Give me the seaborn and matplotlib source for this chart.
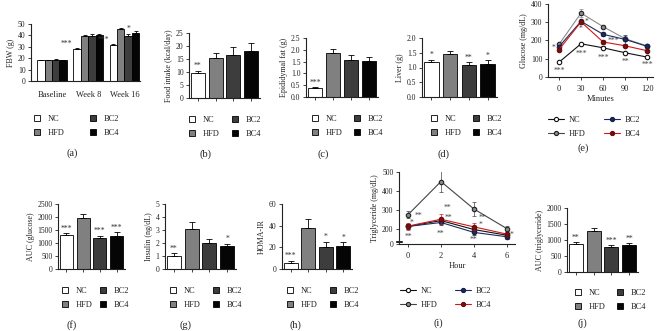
import numpy as np
import pandas as pd
import matplotlib
matplotlib.use('Agg')
import matplotlib.pyplot as plt
import seaborn as sns
from matplotlib.patches import Patch
from matplotlib.lines import Line2D

groups = ['NC', 'HFD', 'BC2', 'BC4']
bar_colors = ['#ffffff', '#808080', '#3d3d3d', '#050505']

# (a) final body weight
weeks = ['Baseline', 'Week 8', 'Week 16']
fbw_nc = [18.2, 28.5, 31.8]
fbw_hfd = [18.1, 39.5, 45.6]
fbw_bc2 = [18.4, 39.8, 39.5]
fbw_bc4 = [18.1, 40.3, 42.1]
fbw_err_nc = [0.4, 0.5, 0.5]
fbw_err_hfd = [0.4, 0.9, 0.7]
fbw_err_bc2 = [0.5, 1.0, 2.0]
fbw_err_bc4 = [0.4, 1.1, 1.8]

# single bar panels
food = [9.7, 15.3, 16.6, 18.2]
food_err = [0.8, 2.2, 3.1, 3.0]
fat = [0.37, 1.88, 1.57, 1.54]
fat_err = [0.04, 0.17, 0.21, 0.16]
liver = [1.18, 1.46, 1.07, 1.13]
liver_err = [0.09, 0.09, 0.11, 0.11]
auc_glu = [1320, 1970, 1200, 1280]
auc_glu_err = [60, 150, 75, 140]
insulin = [1.0, 3.05, 1.97, 1.75]
insulin_err = [0.22, 0.6, 0.36, 0.21]
homa = [6.0, 38.0, 20.6, 20.8]
homa_err = [1.6, 8.0, 4.5, 4.0]
auc_tg = [865, 1270, 780, 830]
auc_tg_err = [70, 100, 50, 75]

# (e) glucose tolerance
minutes = [0, 30, 60, 90, 120]
glu_nc = [81, 182, 160, 133, 109]
glu_hfd = [179, 350, 276, 210, 170]
glu_bc2 = [166, 305, 234, 206, 168]
glu_bc4 = [150, 302, 192, 171, 144]
glu_err_hfd = [8, 20, 10, 12, 8]
glu_err_bc2 = [8, 10, 10, 25, 8]
glu_err_bc4 = [8, 10, 10, 8, 8]
glu_err_nc = [5, 6, 8, 6, 5]

# (i) triglyceride tolerance
hours = [0, 2, 4, 6]
tg_nc = [214, 245, 198, 168]
tg_hfd = [276, 450, 306, 203]
tg_bc2 = [214, 235, 183, 160]
tg_bc4 = [216, 252, 212, 174]
tg_err_nc = [15, 15, 15, 10]
tg_err_hfd = [20, 55, 35, 15]
tg_err_bc2 = [15, 15, 15, 10]
tg_err_bc4 = [18, 25, 18, 12]

sns.set_style('ticks')
plt.rcParams['font.family'] = ['Liberation Serif', 'DejaVu Serif']
plt.rcParams['text.color'] = '#222222'
plt.rcParams['axes.labelcolor'] = '#222222'
plt.rcParams['xtick.color'] = '#222222'
plt.rcParams['ytick.color'] = '#222222'

W, H = 658, 331
fig = plt.figure(figsize=(W / 100, H / 100), dpi=100)


def box(x0, y0, x1, y1):
    return [x0 / W, 1 - y1 / H, (x1 - x0) / W, (y1 - y0) / H]


def style_ax(ax, ylabel, yticks, yticklabels=None):
    sns.despine(ax=ax)
    for s in ['left', 'bottom']:
        ax.spines[s].set_linewidth(0.8)
        ax.spines[s].set_color('#222222')
    ax.set_yticks(yticks)
    if yticklabels is not None:
        ax.set_yticklabels(yticklabels)
    ax.tick_params(labelsize=5.5, width=0.6, length=2.5, pad=1.5)
    ax.set_ylabel(ylabel, fontsize=5.8, labelpad=2)
    ax.set_xlabel('')


def bar_legend(x1, x2, yc):
    hs = [Patch(fc=c, ec='black', lw=0.6) for c in bar_colors]
    for h, lab, x in [(hs[:2], groups[:2], x1), (hs[2:], groups[2:], x2)]:
        fig.legend(h, lab, loc='center left', bbox_to_anchor=(x / W, 1 - yc / H),
                   frameon=False, fontsize=6, handlelength=0.75, handleheight=0.75,
                   handletextpad=0.9, labelspacing=0.8, borderpad=0, borderaxespad=0)


line_styles = {
    'NC': dict(color='#111111', mfc='white', mec='#111111'),
    'HFD': dict(color='#444444', mfc='#8a8a8a', mec='#222222'),
    'BC2': dict(color='#1c2a5c', mfc='#1c2a5c', mec='#141e45'),
    'BC4': dict(color='#d01818', mfc='#7a0d0d', mec='#6a0a0a'),
}


def line_legend(x1, x2, yc):
    hs = [Line2D([], [], lw=0.8, marker='o', ms=3, mew=0.8, **line_styles[g]) for g in groups]
    for h, lab, x in [(hs[:2], groups[:2], x1), (hs[2:], groups[2:], x2)]:
        fig.legend(h, lab, loc='center left', bbox_to_anchor=(x / W, 1 - yc / H),
                   frameon=False, fontsize=6, handlelength=1.9,
                   handletextpad=0.6, labelspacing=0.8, borderpad=0, borderaxespad=0)


def panel_label(x, y, s):
    fig.text(x / W, 1 - y / H, s, ha='center', va='center', fontsize=7.5)


def bar_panel(b, vals, errs, ylim, yticks, ylabel, stars, fmt='{:g}'):
    ax = fig.add_axes(box(*b))
    sns.barplot(x=groups, y=vals, hue=groups, palette=bar_colors, edgecolor='black',
                linewidth=0.6, width=0.78, errorbar=None, legend=False, ax=ax)
    xs = np.arange(len(groups))
    ax.errorbar(xs, vals, yerr=[np.zeros(len(vals)), errs], fmt='none', ecolor='black',
                elinewidth=0.6, capsize=2.2, capthick=0.6)
    ax.set_ylim(*ylim)
    ax.set_xlim(-0.5, 3.5)
    style_ax(ax, ylabel, yticks, [fmt.format(t) for t in yticks])
    ax.set_xticks(xs)
    ax.set_xticklabels([''] * 4)
    span = ylim[1] - ylim[0]
    for i, s in stars:
        ax.text(xs[i], vals[i] + errs[i] + 0.01 * span, s, ha='center', va='bottom',
                fontsize=5.5, color='#333333')
    return ax


# ---- (a)
ax = fig.add_axes(box(31, 24, 140, 81))
df_a = pd.DataFrame({
    'week': weeks * 4,
    'group': np.repeat(groups, 3),
    'fbw': fbw_nc + fbw_hfd + fbw_bc2 + fbw_bc4,
})
sns.barplot(data=df_a, x='week', y='fbw', hue='group', hue_order=groups, palette=bar_colors,
            edgecolor='black', linewidth=0.6, width=0.82, errorbar=None, legend=False, ax=ax)
a_vals = [fbw_nc, fbw_hfd, fbw_bc2, fbw_bc4]
a_errs = [fbw_err_nc, fbw_err_hfd, fbw_err_bc2, fbw_err_bc4]
a_x = []
for cont, v, e in zip(ax.containers, a_vals, a_errs):
    xs = [p.get_x() + p.get_width() / 2 for p in cont]
    a_x.append(xs)
    ax.errorbar(xs, v, yerr=[np.zeros(3), e], fmt='none', ecolor='black',
                elinewidth=0.6, capsize=1.2, capthick=0.6)
ax.set_ylim(0, 50)
ax.set_xlim(-0.58, 2.43)
style_ax(ax, 'FBW (g)', [0, 10, 20, 30, 40, 50])
ax.tick_params(axis='x', labelsize=6, length=0, pad=7)
for j in [1, 2]:
    ax.text(a_x[0][j] - 0.12, fbw_nc[j] + 0.5, '***', ha='right', va='bottom', fontsize=5.5,
            color='#333333')
ax.text(a_x[2][2], fbw_bc2[2] + fbw_err_bc2[2] + 0.3, '*', ha='center', va='bottom',
        fontsize=5.5, color='#333333')
bar_legend(34, 90, 126)
panel_label(72, 153, '(a)')

# ---- (b)
bar_panel((189, 33, 260, 98), food, food_err, (0, 25), [0, 5, 10, 15, 20, 25],
          'Food intake (kcal/day)', [(0, '**')])
bar_legend(189, 232, 127)
panel_label(206, 154, '(b)')

# ---- (c)
bar_panel((306, 38, 378, 97), fat, fat_err, (0, 2.5), [0, 0.5, 1.0, 1.5, 2.0, 2.5],
          'Epididymal fat (g)', [(0, '***')], fmt='{:.1f}')
bar_legend(312, 354, 126)
panel_label(323, 154, '(c)')

# ---- (d)
bar_panel((422, 38, 497, 97), liver, liver_err, (0, 2.0), [0, 0.5, 1.0, 1.5, 2.0],
          'Liver (g)', [(0, '*'), (2, '**'), (3, '*')], fmt='{:.1f}')
bar_legend(431, 473, 126)
panel_label(443, 154, '(d)')

# ---- (e)
ax = fig.add_axes(box(548, 4, 653, 77))
for g, v, e in [('NC', glu_nc, glu_err_nc), ('HFD', glu_hfd, glu_err_hfd),
                ('BC2', glu_bc2, glu_err_bc2), ('BC4', glu_bc4, glu_err_bc4)]:
    st = dict(line_styles[g])
    if g == 'HFD':
        st['color'] = '#8a8a8a'
    ax.errorbar(minutes, v, yerr=e, fmt='none', ecolor=st['color'], elinewidth=0.5,
                capsize=1.2, capthick=0.5)
    sns.lineplot(x=minutes, y=v, ax=ax, marker='o', markersize=3.2, markeredgewidth=0.8,
                 linewidth=0.8, color=st['color'], markerfacecolor=st['mfc'],
                 markeredgecolor=st['mec'])
ax.set_ylim(0, 400)
ax.set_xlim(-15, 128)
style_ax(ax, 'Glucose (mg/dL)', [0, 100, 200, 300, 400])
ax.set_xticks(minutes)
ax.tick_params(axis='x', labelsize=6, pad=3)
ax.set_xlabel('Minutes', fontsize=6, labelpad=2)
e_stars = [(0, 33, '***'), (-7, 160, '*'), (38, 304, '*'), (30, 262, '*'),
           (30, 129, '***'), (74, 199, '***'), (60, 107, '***'), (90, 83, '**'),
           (120, 65, '***')]
for x, y, s in e_stars:
    ax.text(x, y, s, ha='center', va='center', fontsize=5.5, color='#444444')
line_legend(548, 604, 127)
panel_label(583, 148, '(e)')

# ---- (f)
bar_panel((58, 204, 125, 269), auc_glu, auc_glu_err, (0, 2500),
          [0, 500, 1000, 1500, 2000, 2500], 'AUC (glucose)',
          [(0, '***'), (2, '***'), (3, '***')])
bar_legend(62, 100, 298)
panel_label(72, 325, '(f)')

# ---- (g)
bar_panel((165, 204, 236, 269), insulin, insulin_err, (0, 5), [0, 1, 2, 3, 4, 5],
          'Insulin (ng/dL)', [(0, '**'), (3, '*')])
bar_legend(170, 213, 298)
panel_label(185, 325, '(g)')

# ---- (h)
bar_panel((282, 204, 352, 269), homa, homa_err, (0, 60), [0, 20, 40, 60],
          'HOMA-IR', [(0, '***'), (2, '*'), (3, '*')])
bar_legend(287, 330, 298)
panel_label(295, 325, '(h)')

# ---- (i)
ax = fig.add_axes(box(399, 172, 515, 244))
for g, v, e in [('NC', tg_nc, tg_err_nc), ('BC2', tg_bc2, tg_err_bc2),
                ('BC4', tg_bc4, tg_err_bc4), ('HFD', tg_hfd, tg_err_hfd)]:
    st = line_styles[g]
    ax.errorbar(hours, v, yerr=e, fmt='none', ecolor=st['color'], elinewidth=0.5,
                capsize=1.2, capthick=0.5)
    sns.lineplot(x=hours, y=v, ax=ax, marker='o', markersize=3.2, markeredgewidth=0.8,
                 linewidth=0.8, color=st['color'], markerfacecolor=st['mfc'],
                 markeredgecolor=st['mec'])
ax.set_ylim(122, 500)
ax.set_xlim(-0.55, 6.5)
style_ax(ax, 'Triglyceride (mg/dL)', [122, 200, 300, 400, 500], ['0', '200', '300', '400', '500'])
ax.set_xticks(hours)
ax.tick_params(axis='x', labelsize=6, pad=3)
ax.set_xlabel('Hour', fontsize=6, labelpad=2)
# axis break marks
ax.plot([-0.72, -0.38], [140, 140], color='#222222', lw=0.7, clip_on=False)
ax.plot([-0.72, -0.38], [132, 132], color='#222222', lw=0.7, clip_on=False)
i_stars = [(0.65, 268, '**'), (0.0, 160, '**'), (0.22, 232, '*'), (2.4, 311, '**'),
           (2.45, 261, '**'), (2.0, 177, '**'), (4.55, 259, '**'), (4.4, 224, '*'),
           (4.0, 143, '**'), (6.3, 172, '*')]
for x, y, s in i_stars:
    ax.text(x, y, s, ha='center', va='center', fontsize=5.5, color='#444444')
line_legend(400, 455, 298)
panel_label(438, 323, '(i)')

# ---- (j)
bar_panel((567, 208, 638, 272), auc_tg, auc_tg_err, (0, 2000),
          [0, 500, 1000, 1500, 2000], 'AUC (triglyceride)',
          [(0, '**'), (2, '***'), (3, '**')])
bar_legend(575, 617, 300)
panel_label(582, 323, '(j)')

fig.savefig('out.png', dpi=100)
